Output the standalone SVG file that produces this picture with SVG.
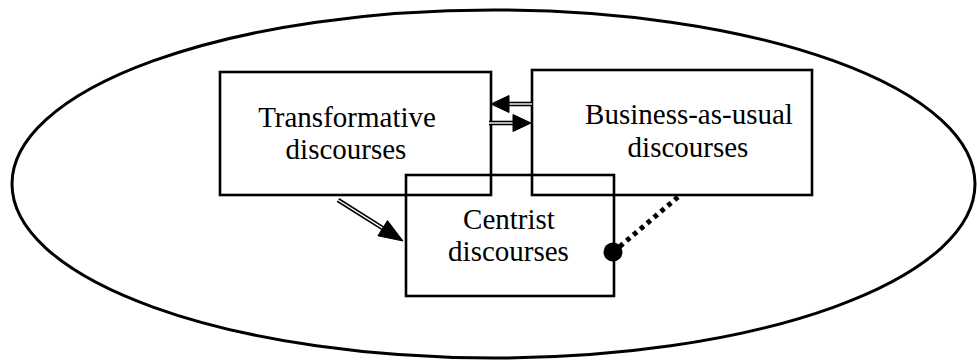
<svg xmlns="http://www.w3.org/2000/svg" width="977" height="362" viewBox="0 0 977 362">
<style>
.box{fill:none;stroke:#000;stroke-width:2.6}
.lbl{font-family:"Liberation Serif","Times New Roman",serif;font-size:29px;fill:#000;text-anchor:middle}
.shaft{fill:none;stroke:#000;stroke-width:4.6}
.gap{fill:none;stroke:#fff;stroke-width:1.4}
.head{fill:#000;stroke:#000;stroke-width:1;stroke-linejoin:miter}
</style>
<rect width="977" height="362" fill="#fff"/>
<ellipse id="context" cx="493.5" cy="184" rx="481.5" ry="174" fill="none" stroke="#000" stroke-width="3"/>
<g id="transformative">
<rect class="box" x="220" y="72" width="271" height="123"/>
<text class="lbl" x="347" y="127">Transformative</text>
<text class="lbl" x="346" y="159">discourses</text>
</g>
<g id="business">
<rect class="box" x="532" y="70" width="280" height="125"/>
<text class="lbl" x="689" y="124">Business-as-usual</text>
<text class="lbl" x="688" y="157">discourses</text>
</g>
<g id="centrist">
<rect class="box" x="406" y="175" width="208" height="121"/>
<text class="lbl" x="509" y="229">Centrist</text>
<text class="lbl" x="508.5" y="261">discourses</text>
</g>
<g id="connectors">
<path class="shaft" d="M532,104 L506,104"/>
<path class="gap" d="M532,104 L506,104"/>
<polygon class="head" points="491,104 509,95.5 509,112.5"/>
<path class="shaft" d="M489,123 L515,123"/>
<path class="gap" d="M489,123 L515,123"/>
<polygon class="head" points="531,123 513,114.5 513,131.5"/>
<path class="shaft" d="M338,200 L385,229.6"/>
<path class="gap" d="M338,200 L385,229.6"/>
<polygon class="head" points="403,241 377.9,235.8 387.5,220.6"/>
<path d="M678,197 L618,248" fill="none" stroke="#000" stroke-width="5" stroke-dasharray="4.5 4.5"/>
<circle cx="613" cy="252" r="9.5" fill="#000"/>
</g>
</svg>
